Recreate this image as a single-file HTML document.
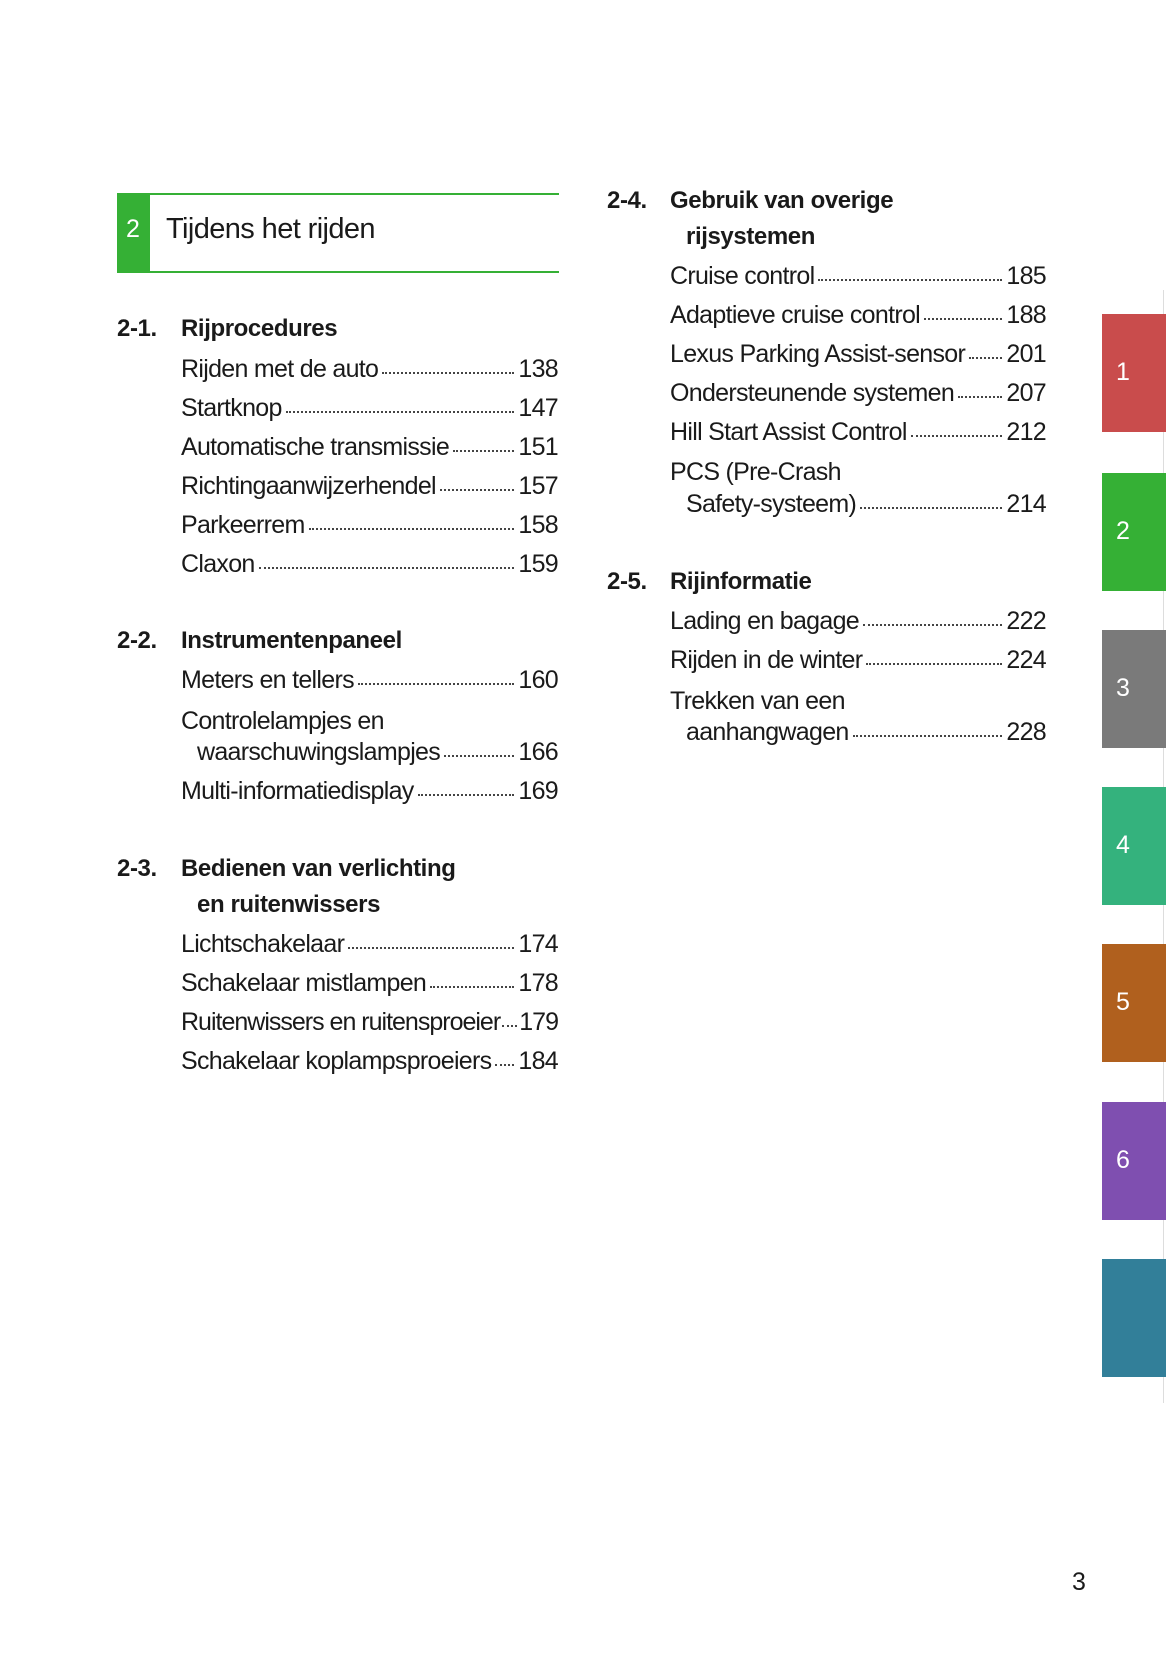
<!DOCTYPE html>
<html><head><meta charset="utf-8"><style>
body{margin:0;width:1166px;height:1654px;background:#fff;position:relative;font-family:"Liberation Sans",sans-serif;color:#1a1a1a;overflow:hidden}
.a{position:absolute;white-space:nowrap;line-height:1}
.h{font-weight:bold;font-size:24px;letter-spacing:-0.4px}
.r{position:absolute;display:flex;align-items:baseline;font-size:25px;letter-spacing:-0.7px;line-height:1;white-space:nowrap;height:30px}
.r .d{flex:1;min-width:6px;border-bottom:2px dotted #444;margin:0 4px;transform:translateY(-3px)}
.p{font-size:25px;letter-spacing:-0.7px}
.tab{position:absolute;left:1102px;width:64px;height:118px;color:#fff;font-size:25px}
.tab span{position:absolute;left:14px;top:44px}
</style></head><body>
<div class="a" style="left:117px;top:193px;width:33px;height:80px;background:#35b035"></div>
<div class="a" style="left:150px;top:193px;width:409px;height:2px;background:#35b035"></div>
<div class="a" style="left:150px;top:271px;width:409px;height:2px;background:#35b035"></div>
<div class="a" style="left:126px;top:217px;color:#fff;font-size:25px">2</div>
<div class="a" style="left:166px;top:215px;font-size:29px;letter-spacing:-0.6px">Tijdens het rijden</div>

<div class="a h" style="left:117px;top:317px">2-1.</div><div class="a h" style="left:181px;top:317px">Rijprocedures</div>
<div class="r" style="left:181px;width:377px;top:357px">Rijden met de auto<span class="d"></span>138</div>
<div class="r" style="left:181px;width:377px;top:396px">Startknop<span class="d"></span>147</div>
<div class="r" style="left:181px;width:377px;top:435px">Automatische transmissie<span class="d"></span>151</div>
<div class="r" style="left:181px;width:377px;top:474px">Richtingaanwijzerhendel<span class="d"></span>157</div>
<div class="r" style="left:181px;width:377px;top:513px">Parkeerrem<span class="d"></span>158</div>
<div class="r" style="left:181px;width:377px;top:552px">Claxon<span class="d"></span>159</div>

<div class="a h" style="left:117px;top:629px">2-2.</div><div class="a h" style="left:181px;top:629px">Instrumentenpaneel</div>
<div class="r" style="left:181px;width:377px;top:668px">Meters en tellers<span class="d"></span>160</div>
<div class="a p" style="left:181px;top:709px">Controlelampjes en</div>
<div class="r" style="left:197px;width:361px;top:740px">waarschuwingslampjes<span class="d"></span>166</div>
<div class="r" style="left:181px;width:377px;top:779px">Multi-informatiedisplay<span class="d"></span>169</div>

<div class="a h" style="left:117px;top:857px">2-3.</div><div class="a h" style="left:181px;top:857px">Bedienen van verlichting</div>
<div class="a h" style="left:197px;top:893px">en ruitenwissers</div>
<div class="r" style="left:181px;width:377px;top:932px">Lichtschakelaar<span class="d"></span>174</div>
<div class="r" style="left:181px;width:377px;top:971px">Schakelaar mistlampen<span class="d"></span>178</div>
<div class="r" style="left:181px;width:377px;top:1010px;letter-spacing:-1px">Ruitenwissers en ruitensproeier<span class="d" style="min-width:3px;margin:0 2px"></span>179</div>
<div class="r" style="left:181px;width:377px;top:1049px">Schakelaar koplampsproeiers<span class="d"></span>184</div>

<div class="a h" style="left:607px;top:189px">2-4.</div><div class="a h" style="left:670px;top:189px">Gebruik van overige</div>
<div class="a h" style="left:686px;top:225px">rijsystemen</div>
<div class="r" style="left:670px;width:376px;top:264px">Cruise control<span class="d"></span>185</div>
<div class="r" style="left:670px;width:376px;top:303px">Adaptieve cruise control<span class="d"></span>188</div>
<div class="r" style="left:670px;width:376px;top:342px">Lexus Parking Assist-sensor<span class="d"></span>201</div>
<div class="r" style="left:670px;width:376px;top:381px">Ondersteunende systemen<span class="d"></span>207</div>
<div class="r" style="left:670px;width:376px;top:420px">Hill Start Assist Control<span class="d"></span>212</div>
<div class="a p" style="left:670px;top:460px">PCS (Pre-Crash</div>
<div class="r" style="left:686px;width:360px;top:492px">Safety-systeem)<span class="d"></span>214</div>

<div class="a h" style="left:607px;top:570px">2-5.</div><div class="a h" style="left:670px;top:570px">Rijinformatie</div>
<div class="r" style="left:670px;width:376px;top:609px">Lading en bagage<span class="d"></span>222</div>
<div class="r" style="left:670px;width:376px;top:648px">Rijden in de winter<span class="d"></span>224</div>
<div class="a p" style="left:670px;top:689px">Trekken van een</div>
<div class="r" style="left:686px;width:360px;top:720px">aanhangwagen<span class="d"></span>228</div>

<div class="a" style="left:1163px;top:290px;width:1px;height:1113px;background:#ddd"></div>
<div class="tab" style="top:314px;background:#c94c4c"><span>1</span></div>
<div class="tab" style="top:473px;background:#35b035"><span>2</span></div>
<div class="tab" style="top:630px;background:#7a7a7a"><span>3</span></div>
<div class="tab" style="top:787px;background:#34b27d"><span>4</span></div>
<div class="tab" style="top:944px;background:#b0601e"><span>5</span></div>
<div class="tab" style="top:1102px;background:#7f4fb0"><span>6</span></div>
<div class="tab" style="top:1259px;background:#327f99"></div>
<div class="a" style="left:1072px;top:1570px;font-size:25px">3</div>
</body></html>
